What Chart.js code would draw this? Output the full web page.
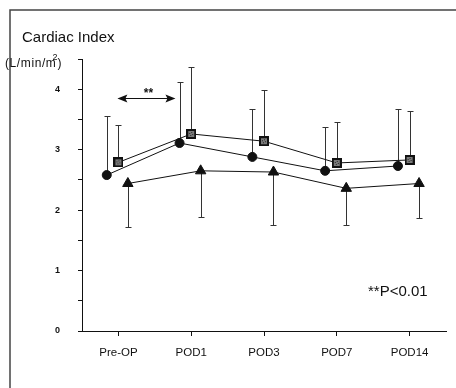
<!DOCTYPE html>
<html>
<head>
<meta charset="utf-8">
<script src="https://cdn.jsdelivr.net/npm/chart.js@4.4.1/dist/chart.umd.min.js"></script>
<style>
  html, body { margin: 0; padding: 0; background: #fff; }
  #wrap { width: 456px; height: 388px; }
</style>
</head>
<body>
<div id="wrap"><canvas id="ci" width="456" height="388"></canvas></div>
<script>
const categories = ['Pre-OP', 'POD1', 'POD3', 'POD7', 'POD14'];
const circleMean = [2.58, 3.11, 2.88, 2.65, 2.73];
const circleUpper = [3.55, 4.12, 3.68, 3.37, 3.68];
const squareMean = [2.79, 3.26, 3.14, 2.78, 2.83];
const squareUpper = [3.40, 4.37, 3.98, 3.45, 3.64];
const triangleMean = [2.44, 2.65, 2.63, 2.36, 2.44];
const triangleLower = [1.72, 1.89, 1.75, 1.76, 1.87];
const yLabels = [0, 1, 2, 3, 4];

Chart.defaults.font.family = '"Liberation Sans", Arial, sans-serif';
Chart.defaults.color = '#111';

// square marker with grey textured centre
const sq = document.createElement('canvas');
sq.width = 10; sq.height = 10;
const sc = sq.getContext('2d');
sc.fillStyle = '#111';
sc.fillRect(0, 0, 10, 10);
sc.fillStyle = '#7a7a7a';
sc.fillRect(2, 2, 6, 6);
sc.fillStyle = '#2a2a2a';
sc.fillRect(3, 4, 1, 1); sc.fillRect(5, 3, 1, 1); sc.fillRect(6, 5, 1, 1); sc.fillRect(4, 6, 1, 1);

function pts(vals, off) {
  return vals.map((v, i) => ({ x: i + off, y: v }));
}

const errorBars = {
  id: 'errorBars',
  beforeDatasetsDraw(chart) {
    const c = chart.ctx, xs = chart.scales.x, ys = chart.scales.y;
    const sets = [[circleMean, circleUpper, -0.16], [squareMean, squareUpper, 0], [triangleMean, triangleLower, 0.13]];
    c.save();
    c.strokeStyle = '#333';
    c.lineWidth = 1;
    sets.forEach(([m, e, off]) => {
      m.forEach((v, i) => {
        const x = Math.round(xs.getPixelForValue(i + off)) + 0.5;
        const y0 = ys.getPixelForValue(v), y1 = Math.round(ys.getPixelForValue(e[i])) + 0.5;
        c.beginPath();
        c.moveTo(x, y0); c.lineTo(x, y1);
        c.moveTo(x - 3, y1); c.lineTo(x + 3, y1);
        c.stroke();
      });
    });
    c.restore();
  }
};

const extras = {
  id: 'extras',
  afterDraw(chart) {
    const c = chart.ctx, xs = chart.scales.x, ys = chart.scales.y;
    c.save();
    // frame
    c.strokeStyle = '#444';
    c.lineWidth = 1.5;
    c.beginPath();
    c.moveTo(10, 388); c.lineTo(10, 10); c.lineTo(456, 10);
    c.stroke();

    c.fillStyle = '#111';
    c.textBaseline = 'alphabetic';
    c.textAlign = 'left';
    c.font = '15px "Liberation Sans", Arial, sans-serif';
    c.fillText('Cardiac Index', 22, 42);
    c.font = '12px "Liberation Sans", Arial, sans-serif';
    c.letterSpacing = '0.6px';
    c.fillText('(L/min/m', 5, 67);
    const w = c.measureText('(L/min/m').width;
    c.fillText(')', 5 + w + 1, 67);
    c.font = '9px "Liberation Sans", Arial, sans-serif';
    c.letterSpacing = '0px';
    c.fillText('2', 5 + w - 4, 60);

    // significance arrow
    const xa = xs.getPixelForValue(0), xb = xs.getPixelForValue(0.77);
    const ya = Math.round(ys.getPixelForValue(3.86)) + 0.5;
    c.strokeStyle = '#111';
    c.lineWidth = 1;
    c.beginPath();
    c.moveTo(xa + 6, ya); c.lineTo(xb - 6, ya);
    c.stroke();
    c.beginPath();
    c.moveTo(xa - 1, ya); c.lineTo(xa + 9, ya - 4); c.lineTo(xa + 7, ya); c.lineTo(xa + 9, ya + 4); c.closePath();
    c.moveTo(xb + 1, ya); c.lineTo(xb - 9, ya - 4); c.lineTo(xb - 7, ya); c.lineTo(xb - 9, ya + 4); c.closePath();
    c.fill();
    c.textAlign = 'center';
    c.font = 'bold 12px "Liberation Sans", Arial, sans-serif';
    c.fillText('**', (xa + xb) / 2 + 2, ya - 2);

    c.textAlign = 'left';
    c.font = '15px "Liberation Sans", Arial, sans-serif';
    c.fillText('**P<0.01', 368, 296);
    c.restore();
  }
};

new Chart(document.getElementById('ci'), {
  type: 'line',
  data: {
    datasets: [
      {
        data: pts(circleMean, -0.16),
        borderColor: '#111', borderWidth: 1,
        pointStyle: 'circle', pointRadius: 4.5,
        pointBackgroundColor: '#111', pointBorderColor: '#111'
      },
      {
        data: pts(squareMean, 0),
        borderColor: '#111', borderWidth: 1,
        pointStyle: sq
      },
      {
        data: pts(triangleMean, 0.13),
        borderColor: '#111', borderWidth: 1,
        pointStyle: 'triangle', pointRadius: 6,
        pointBackgroundColor: '#111', pointBorderColor: '#111'
      }
    ]
  },
  options: {
    responsive: false,
    animation: false,
    layout: { padding: { left: 0, top: 59, right: 10, bottom: 0 } },
    plugins: { legend: { display: false }, tooltip: { enabled: false } },
    scales: {
      x: {
        type: 'linear', min: -0.5, max: 4.5,
        afterBuildTicks: s => { s.ticks = categories.map((c, i) => ({ value: i })); },
        afterFit: s => { s.height = 57; },
        ticks: {
          callback: (v) => categories[v] ?? '',
          font: { size: 11.5 }, padding: 10, maxRotation: 0, autoSkip: false
        },
        grid: { drawOnChartArea: false, tickLength: 5, tickColor: '#111' },
        border: { color: '#111', width: 1 }
      },
      y: {
        min: 0, max: 4.5,
        afterBuildTicks: s => {
          const t = [];
          for (let v = 0; v <= 4.5; v += 0.5) t.push({ value: v });
          s.ticks = t;
        },
        afterFit: s => { s.width = 82; },
        ticks: {
          callback: (v) => yLabels.includes(v) ? String(v) : '',
          font: { size: 9, weight: 'bold' }, padding: 18
        },
        grid: { drawOnChartArea: false, tickLength: 4, tickColor: '#111' },
        border: { color: '#111', width: 1 }
      }
    }
  },
  plugins: [errorBars, extras]
});
</script>
</body>
</html>
